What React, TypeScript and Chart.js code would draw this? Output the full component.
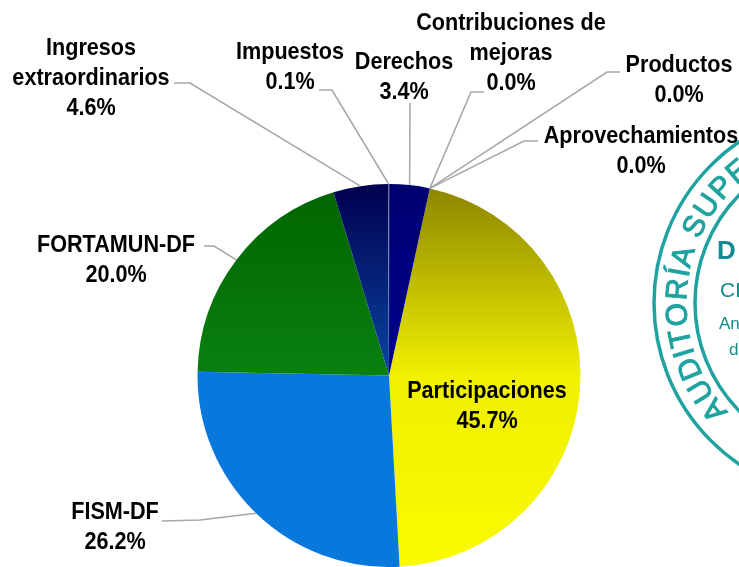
import React, { useEffect, useRef } from "react";
import { Chart, registerables } from "chart.js";

Chart.register(...registerables);

const categories = ["Participaciones", "FISM-DF", "FORTAMUN-DF", "Ingresos extraordinarios", "Impuestos", "Derechos", "Contribuciones de mejoras", "Productos", "Aprovechamientos"];
const shares = [45.7, 26.2, 20.0, 4.6, 0.1, 3.4, 0.0, 0.0, 0.0];
const shareLabels = ["45.7%", "26.2%", "20.0%", "4.6%", "0.1%", "3.4%", "0.0%", "0.0%", "0.0%"];

const FONT = "bold 24px 'Liberation Sans'";

type Lab = { lines: string[]; cx: number; y: number; path?: number[][]; };
const layout: Lab[] = [
  { lines: ["Participaciones", shareLabels[0]], cx: 487, y: 391 },
  { lines: ["FISM-DF", shareLabels[1]], cx: 115, y: 512, path: [[162, 521], [200, 520]] },
  { lines: ["FORTAMUN-DF", shareLabels[2]], cx: 116, y: 245, path: [[204, 246], [214, 246]] },
  { lines: ["Ingresos", "extraordinarios", shareLabels[3]], cx: 91, y: 48, path: [[174, 83], [190, 83]] },
  { lines: ["Impuestos", shareLabels[4]], cx: 290, y: 52, path: [[319, 90], [332, 90]] },
  { lines: ["Derechos", shareLabels[5]], cx: 404, y: 62, path: [[410, 103], [410, 103]] },
  { lines: ["Contribuciones de", "mejoras", shareLabels[6]], cx: 511, y: 23, path: [[484, 92], [471, 92]] },
  { lines: ["Productos", shareLabels[7]], cx: 679, y: 65, path: [[620, 72], [607, 72]] },
  { lines: ["Aprovechamientos", shareLabels[8]], cx: 641, y: 136, path: [[538, 141], [524, 141]] },
];

const stampWord = "AUDITORÍA SUPERIOR";

const labelPlugin = {
  id: "labels",
  afterDraw(chart: any) {
    const { ctx } = chart;
    const arcs = chart.getDatasetMeta(0).data;
    ctx.save();
    // stamp
    ctx.strokeStyle = "#1fa3a0";
    ctx.fillStyle = "#1fa3a0";
    const sx = 849, sy = 303, sr = 171;
    ctx.lineWidth = 3.5;
    [195, 154].forEach((r) => { ctx.beginPath(); ctx.arc(sx, sy, r, 0, Math.PI * 2); ctx.stroke(); });
    ctx.font = "30px 'Liberation Sans'";
    ctx.lineWidth = 1;
    ctx.textAlign = "center";
    ctx.textBaseline = "middle";
    let a = 2.468;
    [...stampWord].forEach((ch, i) => {
      const w = ctx.measureText(ch).width;
      const next = stampWord[i + 1];
      ctx.save();
      ctx.translate(sx + Math.cos(a) * sr, sy + Math.sin(a) * sr);
      ctx.rotate(a + Math.PI / 2);
      ctx.fillText(ch, 0, 0);
      ctx.strokeText(ch, 0, 0);
      ctx.restore();
      if (next) a += ((w + ctx.measureText(next).width) / 2 / sr) * 1.13;
    });
    ctx.fillStyle = "#128a92";
    ctx.textAlign = "left";
    ctx.font = "bold 26px 'Liberation Sans'";
    ctx.fillText("D", 717, 252);
    ctx.font = "21px 'Liberation Sans'";
    ctx.fillText("CL", 720, 291);
    ctx.font = "17px 'Liberation Sans'";
    ctx.fillText("An", 719, 324);
    ctx.fillText("d", 729, 350);

    // leaders
    ctx.strokeStyle = "#a6a6a6";
    ctx.lineWidth = 1.5;
    layout.forEach((l, i) => {
      if (!l.path) return;
      const arc = arcs[i];
      const mid = (arc.startAngle + arc.endAngle) / 2;
      const x = arc.x + Math.cos(mid) * arc.outerRadius;
      const y = arc.y + Math.sin(mid) * arc.outerRadius;
      ctx.beginPath();
      ctx.moveTo(l.path[0][0], l.path[0][1]);
      ctx.lineTo(l.path[1][0], l.path[1][1]);
      ctx.lineTo(x, y);
      ctx.stroke();
    });

    // text
    ctx.fillStyle = "#000";
    ctx.font = FONT;
    ctx.textAlign = "center";
    ctx.textBaseline = "middle";
    layout.forEach((l) => {
      l.lines.forEach((t, k) => {
        ctx.save();
        ctx.translate(l.cx, l.y + k * 30);
        ctx.scale(0.9, 1);
        ctx.fillText(t, 0, 0);
        ctx.restore();
      });
    });
    ctx.restore();
  },
};

function fillFor(chart: any, stops: string[]) {
  const { ctx, chartArea } = chart;
  if (!chartArea) return stops[0];
  const g = ctx.createLinearGradient(0, chartArea.top, 0, chartArea.bottom);
  stops.forEach((c, i) => g.addColorStop(i / (stops.length - 1), c));
  return g;
}

const palettes = [
  ["#8a8400", "#f0f000", "#fafa00"],
  ["#0878dc", "#0878dc", "#0878dc"],
  ["#006400", "#0a8010", "#0a8010"],
  ["#000050", "#0a45a0", "#0a45a0"],
  ["#5a7a90", "#5a7a90"],
  ["#000070", "#000090", "#000090"],
  ["#888888", "#888888"],
  ["#888888", "#888888"],
  ["#888888", "#888888"],
];

export default function App() {
  const ref = useRef<HTMLCanvasElement>(null);
  useEffect(() => {
    const chart = new Chart(ref.current!, {
      type: "pie",
      data: {
        labels: categories,
        datasets: [{
          data: shares,
          borderWidth: 0,
          backgroundColor: (c: any) => fillFor(c.chart, palettes[c.dataIndex]),
        }],
      },
      options: {
        responsive: false,
        animation: false,
        rotation: 12.3,
        layout: { padding: { left: 197, right: 158, top: 184, bottom: 0 } },
        plugins: { legend: { display: false }, tooltip: { enabled: false } },
      },
      plugins: [labelPlugin],
    } as any);
    return () => chart.destroy();
  }, []);
  return (
    <canvas
      ref={ref}
      width={739}
      height={567}
      style={{ position: "fixed", left: 0, top: 0, width: 739, height: 567, background: "#fff" }}
    />
  );
}
